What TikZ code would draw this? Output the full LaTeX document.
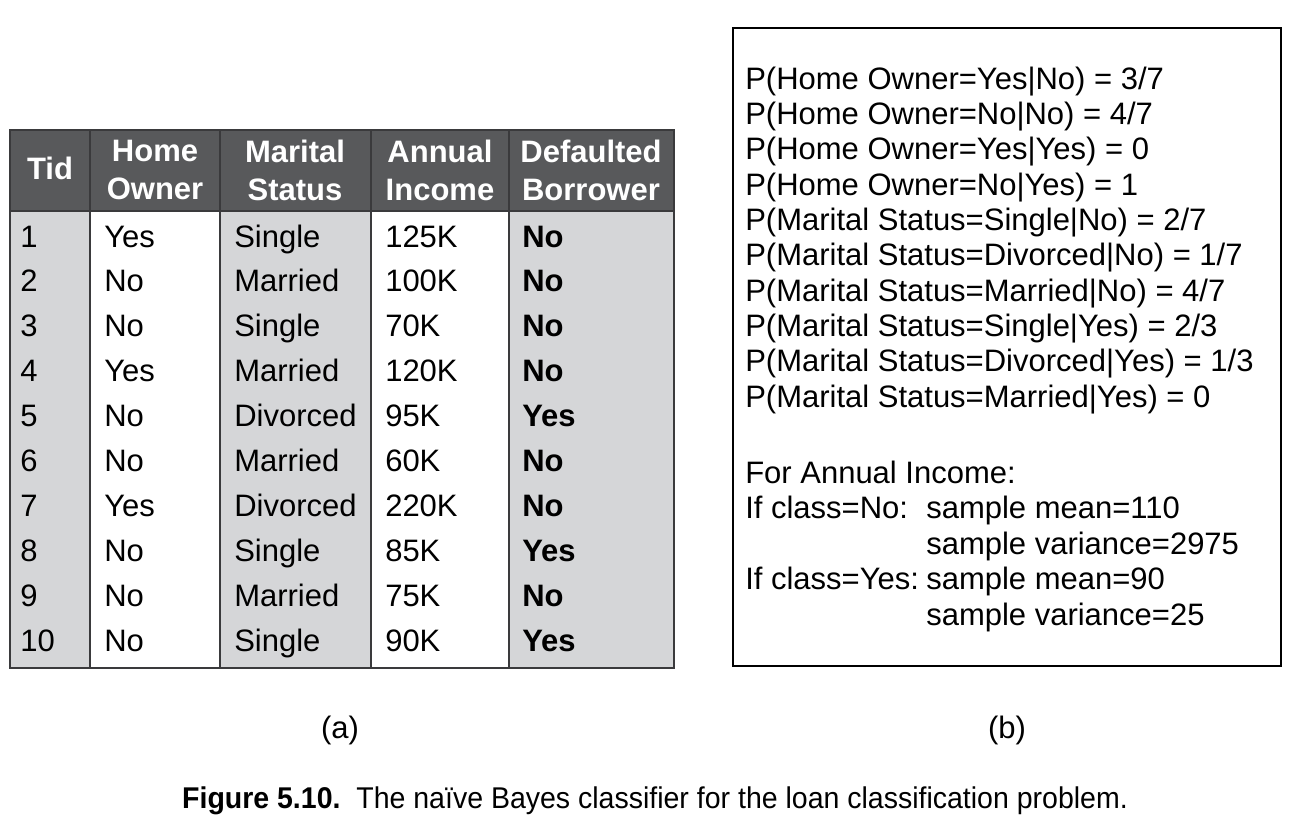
\documentclass[tikz,border=0pt]{standalone}
\usepackage{fontspec}
\setmainfont{Liberation Sans}
\newfontfamily\capfont[FakeStretch=0.95]{Liberation Sans}
\usetikzlibrary{positioning}

\definecolor{headgray}{HTML}{58595B}
\definecolor{colgray}{HTML}{D5D6D8}
\definecolor{rulegray}{HTML}{3A3A3C}

\tikzset{
  tline/.style={draw=rulegray,line width=1.4pt},
  hdr/.style={text=white,font=\fontsize{23.25}{28.5}\selectfont\bfseries,align=center,inner sep=0pt},
  cell/.style={anchor=base west,inner sep=0pt,font=\fontsize{23.25}{28}\selectfont},
  prob/.style={anchor=base west,inner sep=0pt,font=\fontsize{23.25}{28}\selectfont}
}

\begin{document}
\begin{tikzpicture}[x=0.75pt,y=-0.75pt]
  \useasboundingbox (0,0) rectangle (1304,833);
  % table (a)
  \fill[headgray] (10,130) rectangle (674,211);
  \fill[colgray] (10,211) rectangle (90,668);
  \fill[colgray] (220,211) rectangle (371,668);
  \fill[colgray] (509,211) rectangle (674,668);
  \draw[tline] (10,130) rectangle (674,668);
  \draw[tline] (10,211) -- (674,211);
  \foreach \x in {90,220,371,509}
    \draw[tline] (\x,130) -- (\x,668);
  \node[hdr] (tid) at (50,168) {Tid};
  \node[hdr] (home) at (155,170) {Home\\Owner};
  \node[hdr] (marital) at (295,170) {Marital\\Status};
  \node[hdr] (income) at (440,170) {Annual\\Income};
  \node[hdr] (default) at (591,170) {Defaulted\\Borrower};
  \foreach \h/\m/\a/\d [count=\i] in {Yes/Single/125K/No, No/Married/100K/No,
      No/Single/70K/No, Yes/Married/120K/No, No/Divorced/95K/Yes,
      No/Married/60K/No, Yes/Divorced/220K/No, No/Single/85K/Yes,
      No/Married/75K/No, No/Single/90K/Yes}
  {
    \node[cell] (tid\i) at (20,{247+44.9*(\i-1)}) {\i};
    \node[cell] (home\i) at (104,{247+44.9*(\i-1)}) {\h};
    \node[cell] (marital\i) at (234,{247+44.9*(\i-1)}) {\m};
    \node[cell] (income\i) at (385,{247+44.9*(\i-1)}) {\a};
    \node[cell,font=\fontsize{23.25}{28}\selectfont\bfseries] (default\i) at (522,{247+44.9*(\i-1)}) {\d};
  }
  \node[font=\fontsize{23.25}{28}\selectfont] (laba) at (340,730) {(a)};

  % probabilities (b)
  \draw[line width=1.4pt] (733,28) rectangle (1281,666);
  \node[prob] (p1) at (745,89) {P(Home Owner=Yes|No) = 3/7};
  \node[prob] (p2) at (745,124) {P(Home Owner=No|No) = 4/7};
  \node[prob] (p3) at (745,159.5) {P(Home Owner=Yes|Yes) = 0};
  \node[prob] (p4) at (745,195) {P(Home Owner=No|Yes) = 1};
  \node[prob] (p5) at (745,230) {P(Marital Status=Single|No) = 2/7};
  \node[prob] (p6) at (745,265.5) {P(Marital Status=Divorced|No) = 1/7};
  \node[prob] (p7) at (745,301) {P(Marital Status=Married|No) = 4/7};
  \node[prob] (p8) at (745,336) {P(Marital Status=Single|Yes) = 2/3};
  \node[prob] (p9) at (745,371.5) {P(Marital Status=Divorced|Yes) = 1/3};
  \node[prob] (p10) at (745,407) {P(Marital Status=Married|Yes) = 0};
  \node[prob] (inc) at (745,483) {For Annual Income:};
  \node[prob] (ifno) at (745,518.5) {If class=No:};
  \node[prob] (meanno) at (926,518.5) {sample mean=110};
  \node[prob] (varno) at (926,554) {sample variance=2975};
  \node[prob] (ifyes) at (745,589.5) {If class=Yes:};
  \node[prob] (meanyes) at (926,589.5) {sample mean=90};
  \node[prob] (varyes) at (926,625) {sample variance=25};
  \node[font=\fontsize{23.25}{28}\selectfont] (labb) at (1007,730) {(b)};

  % caption
  \node[anchor=base,inner sep=0pt,font=\capfont\fontsize{22.5}{27}\selectfont] (caption) at (655,808)
    {\textbf{Figure 5.10.}\ \ The naïve Bayes classifier for the loan classification problem.};
\end{tikzpicture}
\end{document}
